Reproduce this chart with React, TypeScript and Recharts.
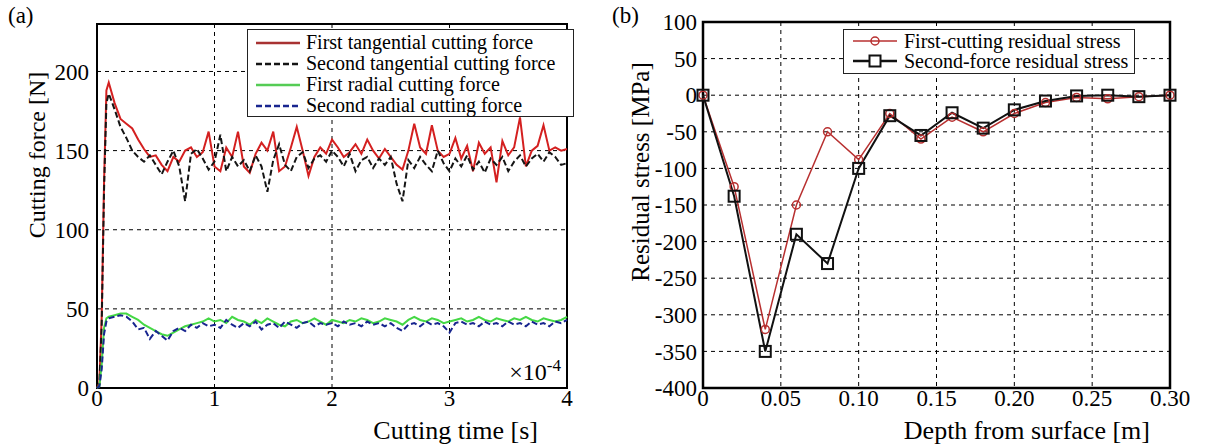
import React from 'react'
import { LineChart, Line, XAxis, YAxis, CartesianGrid, ReferenceArea } from 'recharts'

const FONT = "'Times New Roman', 'Liberation Serif', 'DejaVu Serif', serif"

// (a) cutting time in units of 1e-4 s
const time = [
  0, 0.02, 0.04, 0.06, 0.08, 0.1,
  0.15, 0.2, 0.25, 0.3, 0.35, 0.4, 0.45, 0.5, 0.55, 0.6, 0.65, 0.7, 0.75, 0.8, 0.85, 0.9, 0.95, 1,
  1.05, 1.1, 1.15, 1.2, 1.25, 1.3, 1.35, 1.4, 1.45, 1.5, 1.55, 1.6, 1.65, 1.7, 1.75, 1.8, 1.85, 1.9, 1.95, 2,
  2.05, 2.1, 2.15, 2.2, 2.25, 2.3, 2.35, 2.4, 2.45, 2.5, 2.55, 2.6, 2.65, 2.7, 2.75, 2.8, 2.85, 2.9, 2.95, 3,
  3.05, 3.1, 3.15, 3.2, 3.25, 3.3, 3.35, 3.4, 3.45, 3.5, 3.55, 3.6, 3.65, 3.7, 3.75, 3.8, 3.85, 3.9, 3.95, 4,
]
const firstTangential = [
  0, 3, 45, 130, 188, 193,
  180, 170, 167, 164, 157, 151, 146, 147, 141, 137, 146, 143, 150, 152, 146, 149, 162, 140,
  137, 152, 146, 162, 140, 136, 148, 155, 150, 162, 137, 140, 152, 165, 150, 134, 146, 152, 148, 157,
  152, 146, 149, 154, 148, 157, 150, 145, 151, 146, 141, 138, 150, 167, 152, 148, 166, 150, 146, 148,
  158, 145, 153, 137, 155, 148, 152, 130, 156, 147, 152, 171, 140, 150, 153, 166, 150, 152, 150, 151,
]
const secondTangential = [
  0, 2, 40, 125, 180, 186,
  176, 165, 158, 150, 146, 143, 147, 141, 135, 143, 150, 140, 118, 148, 151, 145, 138, 143,
  160, 137, 146, 140, 144, 137, 147, 140, 124, 144, 154, 141, 137, 146, 149, 139, 145, 147, 143, 150,
  146, 140, 148, 137, 144, 146, 139, 145, 141, 146, 129, 118, 144, 139, 146, 141, 137, 150, 142, 137,
  145, 140, 147, 138, 143, 136, 145, 141, 146, 137, 143, 147, 140, 145, 148, 143, 149, 146, 141, 142,
]
const firstRadial = [
  0, 1, 15, 38, 44, 45,
  46, 47, 47, 45, 43, 40, 38, 36, 34, 33, 35, 37, 39, 40, 41, 42, 44, 42,
  43, 41, 45, 43, 42, 40, 43, 41, 44, 42, 40, 39, 42, 43, 41, 42, 44, 42, 40, 43,
  42, 41, 43, 42, 44, 43, 41, 42, 44, 43, 42, 40, 43, 45, 43, 42, 44, 43, 41, 42,
  43, 44, 42, 43, 45, 43, 42, 44, 43, 42, 44, 43, 45, 43, 42, 44, 43, 42, 43, 45,
]
const secondRadial = [
  0, 1, 12, 34, 42, 44,
  45, 46, 45, 42, 37, 38, 31, 36, 33, 30, 36, 38, 36, 40, 38, 41, 39, 40,
  38, 43, 40, 38, 41, 39, 42, 37, 40, 41, 38, 42, 40, 38, 41, 42, 39, 41, 40, 41,
  39, 42, 40, 41, 39, 42, 40, 41, 39, 41, 38, 36, 40, 41, 39, 42, 40, 41, 39, 35,
  41, 42, 40, 41, 39, 42, 40, 41, 39, 42, 40, 41, 39, 42, 40, 41, 39, 42, 41, 43,
]
const forceTicks = [0, 50, 100, 150, 200]
const timeTicks = [0, 1, 2, 3, 4]

// (b) residual stress vs depth
const depth = [0, 0.02, 0.04, 0.06, 0.08, 0.1, 0.12, 0.14, 0.16, 0.18, 0.2, 0.22, 0.24, 0.26, 0.28, 0.3]
const firstResidual = [0, -125, -320, -150, -50, -88, -25, -60, -30, -50, -25, -10, -3, -5, -2, 0]
const secondResidual = [0, -138, -350, -190, -230, -100, -28, -55, -24, -45, -20, -8, -1, 0, -2, 0]
const stressTicks = [-400, -350, -300, -250, -200, -150, -100, -50, 0, 50, 100]
const depthTicks = [0, 0.05, 0.1, 0.15, 0.2, 0.25, 0.3]

const forceSeries = [
  { key: 'ft', name: 'First tangential cutting force', color: '#d42020', legendColor: '#a83232', dash: undefined },
  { key: 'st', name: 'Second tangential cutting force', color: '#151515', legendColor: '#151515', dash: '6 3' },
  { key: 'fr', name: 'First radial cutting force', color: '#45d845', legendColor: '#55cc55', dash: undefined },
  { key: 'sr', name: 'Second radial cutting force', color: '#18258f', legendColor: '#18258f', dash: '6 3' },
]
const stressSeries = [
  { key: 'first', name: 'First-cutting residual stress', color: '#b83030' },
  { key: 'second', name: 'Second-force residual stress', color: '#111111' },
]

const forceData = time.map((t, i) => ({
  t,
  ft: firstTangential[i],
  st: secondTangential[i],
  fr: firstRadial[i],
  sr: secondRadial[i],
}))
const stressData = depth.map((d, i) => ({ d, first: firstResidual[i], second: secondResidual[i] }))

const tickStyle = { fill: '#000', fontSize: 23, fontFamily: FONT }

const SquareDot = (p: any) => (
  <rect key={`sq-${p.index}`} x={p.cx - 5.5} y={p.cy - 5.5} width={11} height={11} fill="none" stroke="#111" strokeWidth={2} />
)

const yTitle = (text: string, dx: number, dy: number, size: number) => (props: any) => {
  const vb = props.viewBox
  const x = vb.x + dx
  const y = vb.y + dy
  return (
    <text x={x} y={y} transform={`rotate(-90 ${x} ${y})`} textAnchor="middle" dominantBaseline="central"
      fontSize={size} fontFamily={FONT} fill="#000">{text}</text>
  )
}
const xTitle = (text: string, rightGap: number) => (props: any) => {
  const vb = props.viewBox
  return (
    <text x={vb.x + vb.width - rightGap} y={vb.y + vb.height - 8} textAnchor="end"
      fontSize={26} fontFamily={FONT} fill="#000">{text}</text>
  )
}
const exponent = (props: any) => {
  const vb = props.viewBox
  return (
    <text x={vb.x + vb.width - 6} y={vb.y + vb.height - 8} textAnchor="end" fontSize={24} fontFamily={FONT} fill="#000">
      ×10<tspan dy={-9} fontSize={17}>-4</tspan>
    </text>
  )
}

export default function App() {
  return (
    <div style={{ position: 'absolute', left: 0, top: 0, width: 1207, height: 447, background: '#fff', fontFamily: FONT }}>
      <div style={{ position: 'absolute', left: 8, top: 3, fontSize: 23 }}>(a)</div>
      <div style={{ position: 'absolute', left: 612, top: 3, fontSize: 23 }}>(b)</div>

      <div style={{ position: 'absolute', left: 0, top: 0 }}>
        <LineChart width={600} height={447} data={forceData} margin={{ top: 24, right: 33, bottom: 0, left: 37 }}>
          <CartesianGrid stroke="#000" strokeDasharray="4 4" strokeWidth={1} />
          <XAxis dataKey="t" type="number" domain={[0, 4]} ticks={timeTicks} tick={tickStyle}
            tickLine={false} axisLine={false} tickSize={2} tickMargin={0} height={59}
            label={xTitle('Cutting time [s]', 29)} />
          <YAxis type="number" domain={[0, 230]} ticks={forceTicks} tick={tickStyle} tickLine={false}
            axisLine={false} tickSize={4} tickMargin={4} width={60}
            label={yTitle('Cutting force [N]', 0, 131, 24)} />
          {forceSeries.map(s => (
            <Line key={s.key} dataKey={s.key} type="linear" stroke={s.color} strokeWidth={2}
              strokeDasharray={s.dash} dot={false} isAnimationActive={false} />
          ))}
          <ReferenceArea x1={0} x2={4} y1={0} y2={230} fill="none" stroke="#000" strokeWidth={2}
            ifOverflow="visible" label={exponent} />
        </LineChart>
      </div>

      <div style={{ position: 'absolute', left: 247, top: 29, width: 327, height: 88, boxSizing: 'border-box',
        border: '1px solid #222', background: '#fff', padding: '2px 0 0 7px' }}>
        {forceSeries.map(s => (
          <div key={s.key} style={{ display: 'flex', alignItems: 'center', height: 21 }}>
            <svg width={46} height={8}>
              <line x1={1} y1={4} x2={45} y2={4} stroke={s.legendColor} strokeWidth={2.5} strokeDasharray={s.dash} />
            </svg>
            <span style={{ marginLeft: 5, fontSize: 20, lineHeight: '21px', whiteSpace: 'nowrap' }}>{s.name}</span>
          </div>
        ))}
      </div>

      <div style={{ position: 'absolute', left: 600, top: 0 }}>
        <LineChart width={607} height={447} data={stressData} margin={{ top: 22, right: 37, bottom: 0, left: 33 }}>
          <CartesianGrid stroke="#000" strokeDasharray="4 4" strokeWidth={1} />
          <XAxis dataKey="d" type="number" domain={[0, 0.3]} ticks={depthTicks} tick={tickStyle}
            tickFormatter={(v: number) => (v === 0 ? '0' : v.toFixed(2))}
            tickLine={false} axisLine={false} tickSize={2} tickMargin={0} height={59}
            label={xTitle('Depth from surface [m]', 20)} />
          <YAxis type="number" domain={[-400, 100]} ticks={stressTicks} tick={tickStyle} tickLine={false}
            axisLine={false} tickSize={3} tickMargin={3} width={70}
            label={yTitle('Residual stress [MPa]', 7, 150, 25)} />
          <Line dataKey="first" type="linear" stroke={stressSeries[0].color} strokeWidth={1.5}
            dot={{ r: 4, stroke: stressSeries[0].color, fill: 'none', strokeWidth: 1.5 }} isAnimationActive={false} />
          <Line dataKey="second" type="linear" stroke={stressSeries[1].color} strokeWidth={2}
            dot={SquareDot} isAnimationActive={false} />
          <ReferenceArea x1={0} x2={0.3} y1={-400} y2={100} fill="none" stroke="#000" strokeWidth={2.5}
            ifOverflow="visible" />
        </LineChart>
      </div>

      <div style={{ position: 'absolute', left: 843, top: 29, width: 292, height: 45, boxSizing: 'border-box',
        border: '1px solid #222', background: '#fff', padding: '1px 0 0 8px' }}>
        {stressSeries.map((s, i) => (
          <div key={s.key} style={{ display: 'flex', alignItems: 'center', height: 20 }}>
            <svg width={46} height={14}>
              <line x1={1} y1={7} x2={45} y2={7} stroke={s.color} strokeWidth={i === 0 ? 1.5 : 2.5} />
              {i === 0
                ? <circle cx={23} cy={7} r={4} fill="none" stroke={s.color} strokeWidth={1.5} />
                : <rect x={17.5} y={1.5} width={11} height={11} fill="#fff" stroke={s.color} strokeWidth={2} />}
            </svg>
            <span style={{ marginLeft: 6, fontSize: 20, lineHeight: '20px', whiteSpace: 'nowrap' }}>{s.name}</span>
          </div>
        ))}
      </div>
    </div>
  )
}
